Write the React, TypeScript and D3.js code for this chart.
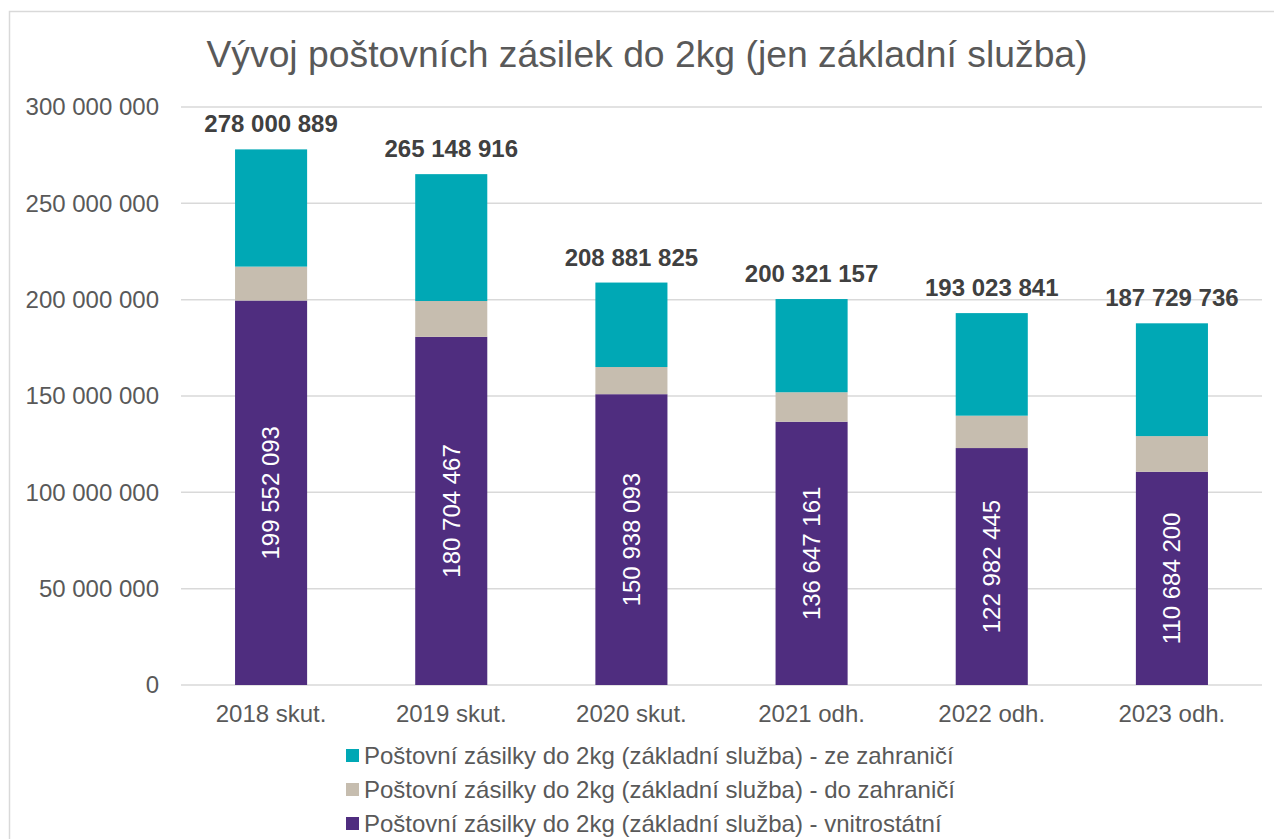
import React from "react";
import * as d3 from "d3";

const categories = ["2018 skut.", "2019 skut.", "2020 skut.", "2021 odh.", "2022 odh.", "2023 odh."];
const vnitrostatni = [199552093, 180704467, 150938093, 136647161, 122982445, 110684200];
const doZahranici = [17600000, 18600000, 14100000, 15300000, 16800000, 18500000];
const totals = [278000889, 265148916, 208881825, 200321157, 193023841, 187729736];
const seriesNames = [
  "Poštovní zásilky do 2kg (základní služba) - ze zahraničí",
  "Poštovní zásilky do 2kg (základní služba) - do zahraničí",
  "Poštovní zásilky do 2kg (základní služba) - vnitrostátní",
];
const yTicks = [0, 50000000, 100000000, 150000000, 200000000, 250000000, 300000000];
const title = "Vývoj poštovních zásilek do 2kg (jen základní služba)";

const COLORS = { ze: "#00A8B5", do: "#C6BDAF", vn: "#4F2D7F" };
const FONT = "'Liberation Sans', Arial, sans-serif";

const fmt = (v: number) => {
  const s = Math.round(v).toString();
  return s.replace(/\B(?=(\d{3})+(?!\d))/g, " ");
};

export default function App() {
  const W = 1274, H = 839;
  const left = 181, right = 1262, top = 107, bottom = 685;
  const x = d3.scaleBand().domain(categories).range([left, right]).paddingInner(0.6).paddingOuter(0.3);
  const y = d3.scaleLinear().domain([0, 300000000]).range([bottom, top]);

  const zeZahranici = totals.map((t, i) => t - vnitrostatni[i] - doZahranici[i]);
  const rows = categories.map((c, i) => ({ c, vn: vnitrostatni[i], dz: doZahranici[i], ze: zeZahranici[i], t: totals[i] }));
  const stack = d3.stack<any>().keys(["vn", "dz", "ze"])(rows as any);
  const colorOf: Record<string, string> = { vn: COLORS.vn, dz: COLORS.do, ze: COLORS.ze };
  const legendColors = [COLORS.ze, COLORS.do, COLORS.vn];
  const fs = 24;

  return (
    <svg width={W} height={H} style={{ position: "absolute", left: 0, top: 0, background: "#fff" }} fontFamily={FONT}>
      <rect x={9.5} y={11.5} width={1300} height={900} fill="#fff" stroke="#d9d9d9" strokeWidth={1.5} />
      <text x={647} y={67} textAnchor="middle" fontSize={37.3} fill="#595959">{title}</text>
      {yTicks.map((t) => (
        <g key={t}>
          <line x1={left} x2={right} y1={y(t)} y2={y(t)} stroke="#d9d9d9" strokeWidth={1.5} />
          <text x={159} y={y(t)} dy="0.35em" textAnchor="end" fontSize={fs} fill="#595959">{fmt(t)}</text>
        </g>
      ))}
      {stack.map((s) => (
        <g key={s.key} fill={colorOf[s.key]}>
          {s.map((d: any, i: number) => (
            <rect key={i} x={x(categories[i])!} width={x.bandwidth()} y={y(d[1])} height={y(d[0]) - y(d[1])} />
          ))}
        </g>
      ))}
      {categories.map((c, i) => {
        const cx = x(c)! + x.bandwidth() / 2;
        const cy = (y(0) + y(vnitrostatni[i])) / 2;
        return (
          <g key={c}>
            <text x={cx} y={y(totals[i]) - 17} textAnchor="middle" fontSize={fs} fontWeight="bold" fill="#404040">{fmt(totals[i])}</text>
            <text transform={`translate(${cx},${cy}) rotate(-90)`} textAnchor="middle" dy="0.35em" fontSize={fs} fill="#fff">{fmt(vnitrostatni[i])}</text>
            <text x={cx} y={722} textAnchor="middle" fontSize={fs} fill="#595959">{c}</text>
          </g>
        );
      })}
      {seriesNames.map((n, i) => {
        const cy = 756 + i * 34;
        return (
          <g key={n}>
            <rect x={346} y={cy - 7} width={13} height={13} fill={legendColors[i]} />
            <text x={364} y={cy} dy="0.35em" fontSize={fs} fill="#595959">{n}</text>
          </g>
        );
      })}
    </svg>
  );
}
